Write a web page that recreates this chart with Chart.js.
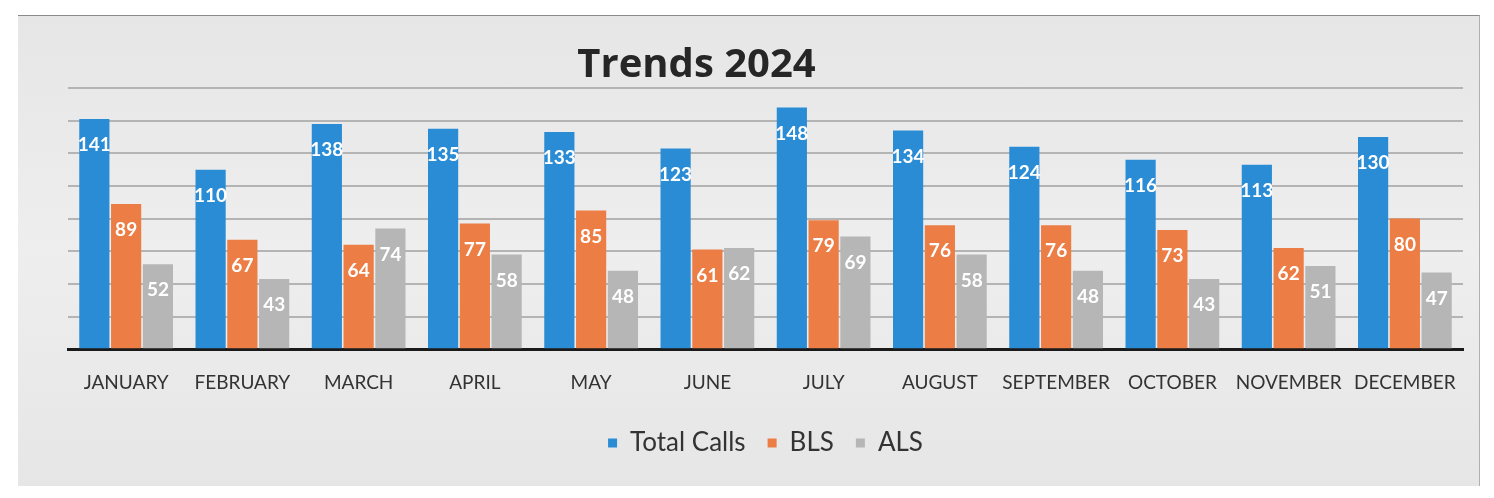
<!DOCTYPE html>
<html>
<head>
<meta charset="utf-8">
<script src="https://cdn.jsdelivr.net/npm/chart.js@4"></script>
<style>
  html, body { margin: 0; padding: 0; background: #fff; }
  #wrap {
    position: absolute; left: 18px; top: 15px; width: 1462px; height: 471px;
    background: linear-gradient(180deg, #e6e6e6 0%, #eeeeee 50%, #e6e6e6 100%);
    border-top: 1px solid #8a8a8a; border-right: 1px solid #b0b0b0;
    box-sizing: border-box;
  }
  #chart { display: block; }
</style>
</head>
<body>
<div id="wrap"><canvas id="chart" width="1461" height="470"></canvas></div>
<script>
(function () {
  'use strict';

  var months = ['JANUARY', 'FEBRUARY', 'MARCH', 'APRIL', 'MAY', 'JUNE', 'JULY',
    'AUGUST', 'SEPTEMBER', 'OCTOBER', 'NOVEMBER', 'DECEMBER'];
  var totalCalls = [141, 110, 138, 135, 133, 123, 148, 134, 124, 116, 113, 130];
  var bls = [89, 67, 64, 77, 85, 61, 79, 76, 76, 73, 62, 80];
  var als = [52, 43, 74, 58, 48, 62, 69, 58, 48, 43, 51, 47];

  var font = 'Lato, "Open Sans", sans-serif';

  // white value labels inside the top of each bar
  var valueLabels = {
    id: 'valueLabels',
    afterDatasetsDraw: function (chart) {
      var ctx = chart.ctx;
      ctx.save();
      ctx.fillStyle = '#ffffff';
      ctx.font = 'bold 19px ' + font;
      ctx.textAlign = 'center';
      ctx.textBaseline = 'middle';
      chart.data.datasets.forEach(function (ds, i) {
        chart.getDatasetMeta(i).data.forEach(function (bar, j) {
          ctx.fillText(ds.data[j], bar.x, bar.y + 26);
        });
      });
      ctx.restore();
    }
  };

  var titleText = {
    id: 'titleText',
    afterDraw: function (chart) {
      var ctx = chart.ctx;
      ctx.save();
      ctx.fillStyle = '#262626';
      ctx.font = 'bold 40px "Open Sans", sans-serif';
      ctx.textAlign = 'center';
      ctx.textBaseline = 'middle';
      ctx.fillText('Trends 2024', chart.width / 2 - 52, 50);
      ctx.restore();
    }
  };

  var ctx = document.getElementById('chart').getContext('2d');

  new Chart(ctx, {
    type: 'bar',
    data: {
      labels: months,
      datasets: [
        { label: 'Total Calls', data: totalCalls, backgroundColor: '#2b8cd6' },
        { label: 'BLS', data: bls, backgroundColor: '#ec7d44' },
        { label: 'ALS', data: als, backgroundColor: '#b6b6b6' }
      ]
    },
    options: {
      responsive: false,
      animation: false,
      devicePixelRatio: 1,
      layout: { padding: { left: 50, right: 16, top: 72, bottom: 20 } },
      datasets: {
        bar: { categoryPercentage: 0.82, barPercentage: 0.95 }
      },
      scales: {
        x: {
          grid: { display: false },
          border: { color: '#1a1a1a', width: 3 },
          ticks: {
            color: '#333333',
            font: { family: font, size: 19 },
            padding: 14,
            maxRotation: 0,
            autoSkip: false
          }
        },
        y: {
          min: 0,
          max: 160,
          ticks: { display: false, stepSize: 20 },
          grid: { color: '#b4b4b4', lineWidth: 2, drawTicks: false },
          border: { display: false }
        }
      },
      plugins: {
        legend: {
          position: 'bottom',
          labels: {
            color: '#333333',
            font: { family: font, size: 26 },
            boxWidth: 9,
            boxHeight: 9,
            padding: 22
          }
        },
        title: { display: false },
        tooltip: { enabled: false }
      }
    },
    plugins: [valueLabels, titleText]
  });
}());
</script>
</body>
</html>
